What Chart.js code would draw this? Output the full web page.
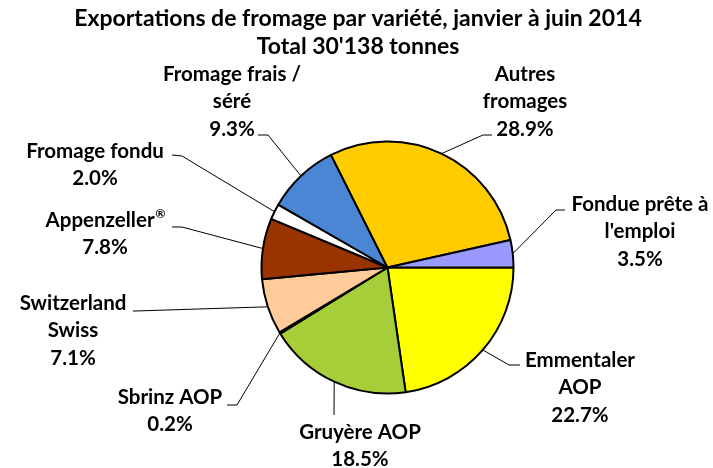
<!DOCTYPE html>
<html>
<head>
<meta charset="utf-8">
<script src="https://cdn.jsdelivr.net/npm/chart.js@4.4.1/dist/chart.umd.min.js"></script>
<style>
  html, body { margin: 0; padding: 0; background: #fff; }
  #wrap { width: 713px; height: 468px; }
</style>
</head>
<body>
<div id="wrap"><canvas id="graphique" width="713" height="468"></canvas></div>
<script>
// Données (parts en %, dans le sens horaire à partir de 3 heures)
const varietes = ['Emmentaler AOP', 'Gruyère AOP', 'Sbrinz AOP', 'Switzerland Swiss', 'Appenzeller®',
                  'Fromage fondu', 'Fromage frais / séré', 'Autres fromages', "Fondue prête à l'emploi"];
const parts = [22.7, 18.5, 0.2, 7.1, 7.8, 2.0, 9.3, 28.9, 3.5];
const couleurs = ['#FFFF00', '#A6CE39', '#6B8E23', '#FFCC99', '#993300',
                  '#FFFFFF', '#4A86D4', '#FFCC00', '#9999FF'];
// Lignes de texte des étiquettes
const lignesEtiquettes = [
    ['Emmentaler', 'AOP'],
    ['Gruyère AOP'],
    ['Sbrinz AOP'],
    ['Switzerland', 'Swiss'],
    ['Appenzeller®'],
    ['Fromage fondu'],
    ['Fromage frais /', 'séré'],
    ['Autres', 'fromages'],
    ['Fondue prête à', "l'emploi"]
];
const titre = ['Exportations de fromage par variété, janvier à juin 2014', "Total 30'138 tonnes"];

// Placement des étiquettes: centre x, y de la 1re ligne, coude et fin de la ligne de rappel
const placement = [
    { x: 580, y: 360, coude: [509, 365], fin: [520, 365] },
    { x: 360, y: 432, coude: [334, 415], fin: [334, 415] },
    { x: 170, y: 397, coude: [237, 405], fin: [227, 405] },
    { x: 73,  y: 303, coude: [135, 311], fin: [133, 311] },
    { x: 105, y: 220, coude: [182, 227], fin: [172, 227] },
    { x: 95,  y: 151, coude: [182, 156], fin: [172, 155] },
    { x: 232, y: 74,  coude: [268, 135], fin: [258, 135] },
    { x: 525, y: 74,  coude: [483, 135], fin: [492, 135] },
    { x: 640, y: 204, coude: [556, 210], fin: [565, 210] }
];

const policeTitre = 'bold 23px Lato';
const policeEtiq = 'bold 20.5px Lato';
const policeExposant = 'bold 12px Lato';
const interligne = 27.5;

// Écrit une ligne centrée, avec le ® en exposant
function ecrireLigne(ctx, t, x, y) {
    if (!t.endsWith('®')) {
        ctx.fillText(t, x, y);
        return;
    }
    const base = t.slice(0, -1);
    ctx.font = policeEtiq;
    const w1 = ctx.measureText(base).width;
    ctx.font = policeExposant;
    const w2 = ctx.measureText('®').width;
    const x0 = x - (w1 + w2) / 2;
    ctx.textAlign = 'left';
    ctx.font = policeEtiq;
    ctx.fillText(base, x0, y);
    ctx.font = policeExposant;
    ctx.fillText('®', x0 + w1 + 1, y - 6);
    ctx.font = policeEtiq;
    ctx.textAlign = 'center';
}

const etiquettesPlugin = {
    id: 'etiquettes',
    afterDraw(chart) {
        const ctx = chart.ctx;
        const meta = chart.getDatasetMeta(0);
        ctx.save();
        // Titre
        ctx.fillStyle = '#000';
        ctx.textAlign = 'center';
        ctx.textBaseline = 'middle';
        ctx.font = policeTitre;
        ctx.fillText(titre[0], 358, 19);
        ctx.fillText(titre[1], 358, 47);

        meta.data.forEach((arc, i) => {
            const p = arc.getProps(['x', 'y', 'startAngle', 'endAngle', 'outerRadius'], true);
            const mid = (p.startAngle + p.endAngle) / 2;
            const ax = p.x + Math.cos(mid) * p.outerRadius;
            const ay = p.y + Math.sin(mid) * p.outerRadius;
            const pl = placement[i];
            // ligne de rappel
            ctx.strokeStyle = '#000';
            ctx.lineWidth = 1;
            ctx.beginPath();
            ctx.moveTo(ax, ay);
            ctx.lineTo(pl.coude[0], pl.coude[1]);
            ctx.lineTo(pl.fin[0], pl.fin[1]);
            ctx.stroke();
            // texte
            ctx.font = policeEtiq;
            const lignes = lignesEtiquettes[i].concat([parts[i].toFixed(1) + '%']);
            lignes.forEach((t, k) => {
                ecrireLigne(ctx, t, pl.x, pl.y + k * interligne);
            });
        });
        ctx.restore();
    }
};

new Chart(document.getElementById('graphique'), {
    type: 'pie',
    data: {
        labels: varietes,
        datasets: [{
            data: parts,
            backgroundColor: couleurs,
            borderColor: '#000',
            borderWidth: 2
        }]
    },
    options: {
        responsive: false,
        animation: false,
        rotation: 90,
        layout: { padding: { left: 260.5, right: 198.5, top: 140.5, bottom: 73.5 } },
        plugins: {
            legend: { display: false },
            title: { display: false },
            tooltip: { enabled: false }
        }
    },
    plugins: [etiquettesPlugin]
});
</script>
</body>
</html>
